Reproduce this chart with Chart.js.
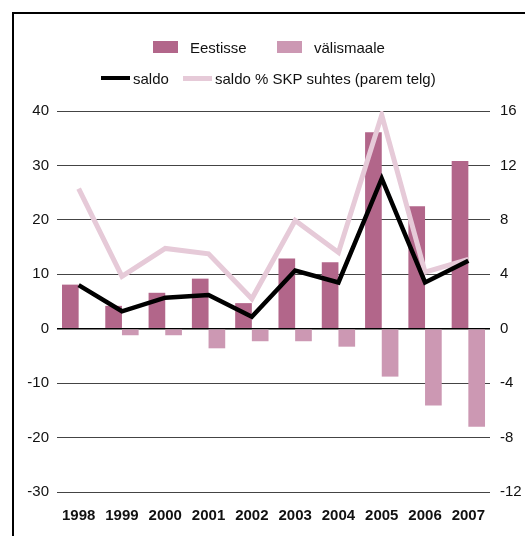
<!DOCTYPE html>
<html>
<head>
<meta charset="utf-8">
<script src="https://cdn.jsdelivr.net/npm/chart.js@4"></script>
<style>
    html, body { margin: 0; padding: 0; background: #fff; }
    body { width: 530px; height: 536px; position: relative; overflow: hidden; font-family: "Liberation Sans", Arial, sans-serif; }
    #raam { position: absolute; left: 12px; top: 12px; width: 511px; height: 540px; border-top: 2px solid #000; border-left: 2px solid #000; }
    #wrap { position: absolute; left: 0; top: 0; width: 530px; height: 536px; }
    .leg { position: absolute; font-size: 15px; color: #111; display: flex; align-items: center; white-space: nowrap; }
    .leg span.mark { display: inline-block; }
</style>
</head>
<body>
<div id="raam"></div>
<div id="wrap"><canvas id="grafik" width="530" height="536"></canvas></div>
<div id="legend"></div>
<script>
// andmed (mld kr)
const aastad = ['1998', '1999', '2000', '2001', '2002', '2003', '2004', '2005', '2006', '2007'];
const eestisse = [8.1, 4.2, 6.6, 9.2, 4.7, 12.9, 12.2, 36.1, 22.5, 30.8];
const valismaale = [0, -1.2, -1.2, -3.6, -2.3, -2.3, -3.3, -8.8, -14.1, -18.0];
const saldo = [8.0, 3.2, 5.7, 6.2, 2.2, 10.7, 8.5, 27.6, 8.5, 12.5];
const saldoSkp = [10.3, 3.85, 5.9, 5.5, 2.2, 7.95, 5.6, 15.7, 4.15, 5.1];
const vasakTicks = [40, 30, 20, 10, 0, -10, -20, -30];
const paremTicks = [16, 12, 8, 4, 0, -4, -8, -12];

const datasets = [
    { type: 'line', label: 'saldo', data: saldo, borderColor: '#000000', backgroundColor: '#000000',
      borderWidth: 4.5, pointRadius: 0, tension: 0, borderJoinStyle: 'miter', yAxisID: 'y', order: 0 },
    { type: 'line', label: 'saldo % SKP suhtes (parem telg)', data: saldoSkp, borderColor: '#e6cad8', backgroundColor: '#e6cad8',
      borderWidth: 5, pointRadius: 0, tension: 0, borderJoinStyle: 'miter', yAxisID: 'y2', order: 1 },
    { type: 'bar', label: 'Eestisse', data: eestisse, backgroundColor: '#b2668a', yAxisID: 'y', order: 2,
      categoryPercentage: 0.77, barPercentage: 1 },
    { type: 'bar', label: 'välismaale', data: valismaale, backgroundColor: '#cc98b3', yAxisID: 'y', order: 2,
      categoryPercentage: 0.77, barPercentage: 1 }
];

const ctx = document.getElementById('grafik').getContext('2d');
const chart = new Chart(ctx, {
    data: { labels: aastad, datasets: datasets },
    options: {
        responsive: false,
        animation: false,
        layout: { padding: { top: 111, bottom: 0, left: 0, right: 0 } },
        plugins: { legend: { display: false }, tooltip: { enabled: false } },
        scales: {
            x: {
                grid: { display: false, drawTicks: false },
                border: { display: false },
                ticks: { color: '#111', font: { family: 'Liberation Sans', size: 15, weight: 'bold' }, padding: 15, maxRotation: 0 },
                afterFit: (s) => { s.height = 44; }
            },
            y: {
                position: 'left', min: -30, max: 40,
                afterBuildTicks: (s) => { s.ticks = vasakTicks.map(v => ({ value: v })); },
                grid: { color: (c) => c.tick.value === 0 ? '#000' : '#444', lineWidth: (c) => c.tick.value === 0 ? 1.5 : 1, drawTicks: false },
                border: { display: false },
                ticks: { color: '#111', font: { family: 'Liberation Sans', size: 15 }, padding: 8 },
                afterFit: (s) => { s.width = 57; }
            },
            y2: {
                position: 'right', min: -12, max: 16,
                afterBuildTicks: (s) => { s.ticks = paremTicks.map(v => ({ value: v })); },
                grid: { display: false, drawTicks: false },
                border: { display: false },
                ticks: { color: '#111', font: { family: 'Liberation Sans', size: 15 }, padding: 10 },
                afterFit: (s) => { s.width = 40; }
            }
        }
    }
});

// legend kahes reas
const legendPos = {
    'Eestisse': { left: 153, top: 47, mark: 'box' },
    'välismaale': { left: 277, top: 47, mark: 'box' },
    'saldo': { left: 101, top: 78, mark: 'line' },
    'saldo % SKP suhtes (parem telg)': { left: 183, top: 78, mark: 'line' }
};
const legend = document.getElementById('legend');
datasets.forEach(ds => {
    const p = legendPos[ds.label];
    const el = document.createElement('div');
    el.className = 'leg';
    el.style.left = p.left + 'px';
    el.style.top = (p.top - 10) + 'px';
    el.style.height = '20px';
    const m = document.createElement('span');
    m.className = 'mark';
    if (p.mark === 'box') {
        m.style.width = '25px'; m.style.height = '12px'; m.style.marginRight = '12px';
        m.style.background = ds.backgroundColor;
    } else {
        m.style.width = '29px'; m.style.height = ds.borderWidth + 'px'; m.style.marginRight = '3px';
        m.style.background = ds.borderColor;
    }
    const t = document.createElement('span');
    t.textContent = ds.label;
    el.appendChild(m);
    el.appendChild(t);
    legend.appendChild(el);
});
</script>
</body>
</html>
